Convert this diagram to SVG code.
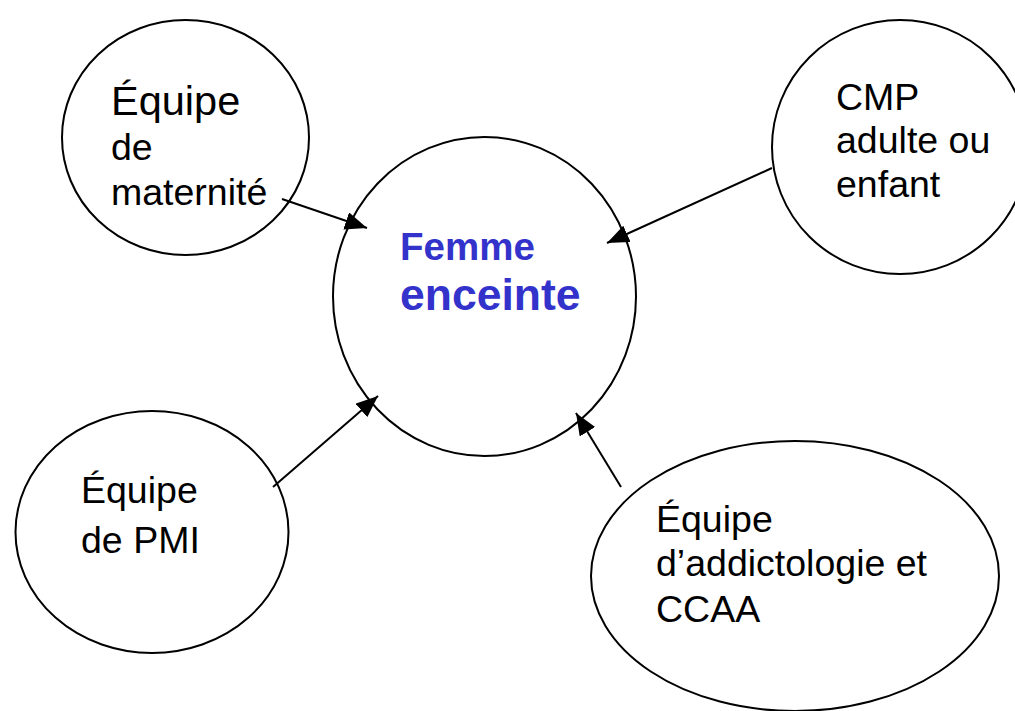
<svg xmlns="http://www.w3.org/2000/svg" width="1015" height="711" viewBox="0 0 1015 711">
<style>
.node{fill:#fff;stroke:#000;stroke-width:2}
.t{font-family:"Liberation Sans",Arial,sans-serif;font-size:37.5px;fill:#000}
.c{font-family:"Liberation Sans",Arial,sans-serif;font-weight:bold;fill:#3333CC}
.edge{stroke:#000;stroke-width:2;fill:none}
</style>
<defs>
<marker id="ah" markerUnits="userSpaceOnUse" markerWidth="24" markerHeight="20" refX="22" refY="9" orient="auto">
<path d="M0,0 L22,9 L0,18 z" fill="#000"/>
</marker>
</defs>
<rect width="1015" height="711" fill="#fff"/>
<g id="maternite">
<ellipse class="node" cx="185.5" cy="137.5" rx="123.5" ry="117.5"/>
<text class="t" x="111" y="115" style="font-size:41.5px">Équipe</text>
<text class="t" x="111" y="160">de</text>
<text class="t" x="111" y="205">maternité</text>
</g>
<g id="cmp">
<ellipse class="node" cx="900" cy="147" rx="128" ry="127"/>
<text class="t" x="836" y="110">CMP</text>
<text class="t" x="836" y="153">adulte ou</text>
<text class="t" x="836" y="197">enfant</text>
</g>
<g id="pmi">
<ellipse class="node" cx="152" cy="532" rx="136.5" ry="121"/>
<text class="t" x="81" y="503">Équipe</text>
<text class="t" x="81" y="553">de PMI</text>
</g>
<g id="addicto">
<ellipse class="node" cx="795" cy="576" rx="204" ry="135"/>
<text class="t" x="656" y="532">Équipe</text>
<text class="t" x="656" y="576">d’addictologie et</text>
<text class="t" x="656" y="622">CCAA</text>
</g>
<g id="femme">
<ellipse class="node" cx="484.5" cy="296.5" rx="151.5" ry="159.5"/>
<text class="c" x="400" y="260" style="font-size:38.5px">Femme</text>
<text class="c" x="400" y="310" style="font-size:44.5px">enceinte</text>
</g>
<g id="connectors">
<line class="edge" x1="282" y1="199" x2="367" y2="228" marker-end="url(#ah)"/>
<line class="edge" x1="772" y1="168" x2="607" y2="243" marker-end="url(#ah)"/>
<line class="edge" x1="273" y1="487" x2="378" y2="396" marker-end="url(#ah)"/>
<line class="edge" x1="621" y1="487" x2="576" y2="413" marker-end="url(#ah)"/>
</g>
</svg>
